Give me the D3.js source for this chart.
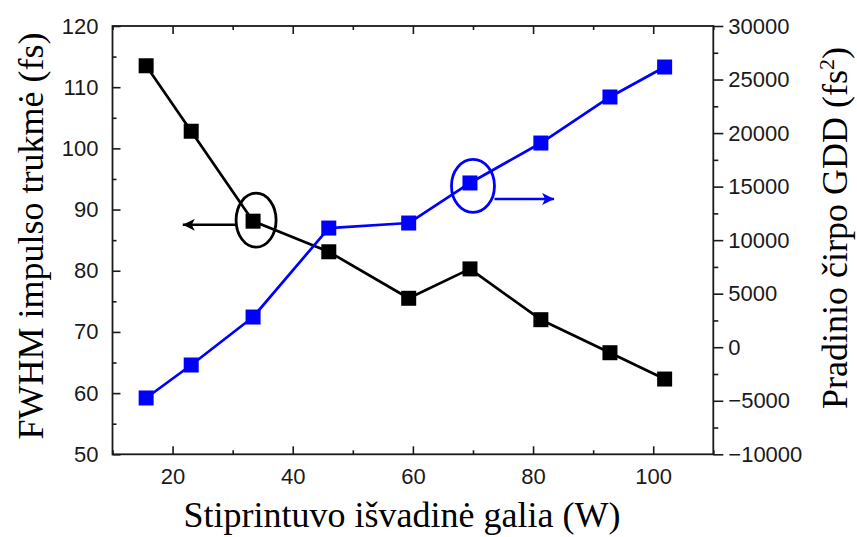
<!DOCTYPE html>
<html>
<head>
<meta charset="utf-8">
<script src="https://cdn.jsdelivr.net/npm/d3@7"></script>
<style>
  html, body { margin: 0; padding: 0; background: #fff; }
  svg { display: block; }
  .tick text { font-family: "Liberation Sans", Arial, sans-serif; font-size: 22px; fill: #1a1a1a; }
  .title { font-family: "Liberation Serif", "Times New Roman", serif; font-size: 36px; fill: #000; }
</style>
</head>
<body>
<svg id="chart" width="857" height="537"></svg>
<script>
// Amplifier output power (W)
const power = [15.6, 23.1, 33.4, 46.0, 59.3, 69.5, 81.3, 92.8, 101.9];
// FWHM pulse duration (fs), left axis
const fwhm = [113.5, 102.8, 88.1, 83.1, 75.5, 80.3, 72.0, 66.6, 62.3];
// Initial chirp GDD (fs^2), right axis
const gdd = [-4740, -1660, 2820, 11130, 11600, 15340, 19070, 23370, 26170];

const xTicks = [20, 40, 60, 80, 100];
const xMinor = [10, 30, 50, 70, 90, 110];
const yLeftTicks = [50, 60, 70, 80, 90, 100, 110, 120];
const yLeftMinor = [55, 65, 75, 85, 95, 105, 115];
const yRightTicks = [-10000, -5000, 0, 5000, 10000, 15000, 20000, 25000, 30000];
const yRightMinor = [-7500, -2500, 2500, 7500, 12500, 17500, 22500, 27500];

// Annotation anchors in data units: highlighted point index and arrow tip
const leftMarkIndex = 2, leftArrowTipX = 21.7, leftArrowY = 87.5;
const rightMarkIndex = 5, rightArrowTipX = 83.5, rightArrowY = 13850;

const svg = d3.select("#chart");
const L = 112.5, R = 713.3, T = 26, B = 454.3;

const x = d3.scaleLinear().domain([10, 110]).range([L, R]);
const yL = d3.scaleLinear().domain([50, 120]).range([B, T]);
const yR = d3.scaleLinear().domain([-10000, 30000]).range([B, T]);

const axisColor = "#1a1a1a";
function styleAxis(g) {
  g.select(".domain").remove();
  g.selectAll(".tick line").attr("stroke", axisColor).attr("stroke-width", 1.6);
}

// Frame
svg.append("rect").attr("x", L).attr("y", T).attr("width", R - L).attr("height", B - T)
  .attr("fill", "none").attr("stroke", axisColor).attr("stroke-width", 1.8);

// Bottom axis (ticks pointing inward)
svg.append("g").attr("transform", `translate(0,${B})`)
  .call(d3.axisBottom(x).tickValues(xTicks).tickSize(-8).tickPadding(14).tickFormat(d3.format("d")))
  .call(styleAxis);
svg.append("g").attr("transform", `translate(0,${B})`)
  .call(d3.axisBottom(x).tickValues(xMinor).tickSize(-4).tickFormat(""))
  .call(styleAxis);
// Top axis mirror ticks
svg.append("g").attr("transform", `translate(0,${T})`)
  .call(d3.axisTop(x).tickValues(xTicks).tickSize(-8).tickFormat(""))
  .call(styleAxis);
svg.append("g").attr("transform", `translate(0,${T})`)
  .call(d3.axisTop(x).tickValues(xMinor).tickSize(-4).tickFormat(""))
  .call(styleAxis);

// Left axis (ticks inward)
svg.append("g").attr("transform", `translate(${L},0)`)
  .call(d3.axisLeft(yL).tickValues(yLeftTicks).tickSize(-8).tickPadding(14).tickFormat(d3.format("d")))
  .call(styleAxis);
svg.append("g").attr("transform", `translate(${L},0)`)
  .call(d3.axisLeft(yL).tickValues(yLeftMinor).tickSize(-4).tickFormat(""))
  .call(styleAxis);

// Right axis (ticks outward)
svg.append("g").attr("transform", `translate(${R},0)`)
  .call(d3.axisRight(yR).tickValues(yRightTicks).tickSize(10).tickPadding(5).tickFormat(d3.format("d")))
  .call(styleAxis);
svg.append("g").attr("transform", `translate(${R},0)`)
  .call(d3.axisRight(yR).tickValues(yRightMinor).tickSize(5).tickFormat(""))
  .call(styleAxis);

// Series
const black = "#000000", blue = "#0000ff";
const ms = 15;

function drawSeries(values, yScale, color) {
  const pts = power.map((p, i) => [x(p), yScale(values[i])]);
  svg.append("path").datum(pts)
    .attr("d", d3.line())
    .attr("fill", "none").attr("stroke", color).attr("stroke-width", 2.7)
    .attr("stroke-linejoin", "round");
  svg.append("g").selectAll("rect").data(pts).join("rect")
    .attr("x", d => d[0] - ms / 2).attr("y", d => d[1] - ms / 2)
    .attr("width", ms).attr("height", ms).attr("fill", color);
}
drawSeries(fwhm, yL, black);
drawSeries(gdd, yR, blue);

// Arrow heads
const defs = svg.append("defs");
function marker(id, color) {
  defs.append("marker").attr("id", id).attr("viewBox", "0 0 10 10")
    .attr("refX", 10).attr("refY", 5).attr("markerWidth", 19).attr("markerHeight", 12)
    .attr("markerUnits", "userSpaceOnUse").attr("orient", "auto")
    .append("path").attr("d", "M0,0 L10,5 L0,10 L2.5,5 Z").attr("fill", color);
}
marker("arrBlack", black);
marker("arrBlue", blue);

// Ellipse + arrow marking which axis each series belongs to
function callout(cx, cy, rx, ry, x0, x1, ay, color, id) {
  svg.append("ellipse").attr("cx", cx).attr("cy", cy).attr("rx", rx).attr("ry", ry)
    .attr("fill", "none").attr("stroke", color).attr("stroke-width", 2.8);
  svg.append("line").attr("x1", x0).attr("y1", ay).attr("x2", x1).attr("y2", ay)
    .attr("stroke", color).attr("stroke-width", 2.5).attr("marker-end", `url(#${id})`);
}
{
  const cx = x(power[leftMarkIndex]) + 3, cy = yL(fwhm[leftMarkIndex]) - 1;
  callout(cx, cy, 20, 27, cx - 20, x(leftArrowTipX), yL(leftArrowY), black, "arrBlack");
}
{
  const cx = x(power[rightMarkIndex]) + 3, cy = yR(gdd[rightMarkIndex]) + 3;
  callout(cx, cy, 21.5, 26.5, cx + 21.5, x(rightArrowTipX), yR(rightArrowY), blue, "arrBlue");
}

// Axis titles
svg.append("text").attr("class", "title")
  .attr("x", 402).attr("y", 527).attr("text-anchor", "middle")
  .text("Stiprintuvo išvadinė galia (W)");

svg.append("text").attr("class", "title")
  .attr("transform", `translate(43,236) rotate(-90)`)
  .attr("text-anchor", "middle")
  .text("FWHM impulso trukmė (fs)");

const rt = svg.append("text").attr("class", "title")
  .attr("transform", `translate(847,228) rotate(-90)`)
  .attr("text-anchor", "middle");
rt.append("tspan").text("Pradinio čirpo GDD (fs");
rt.append("tspan").attr("font-size", "22px").attr("dy", "-13").text("2");
rt.append("tspan").attr("dy", "13").text(")");
</script>
</body>
</html>
